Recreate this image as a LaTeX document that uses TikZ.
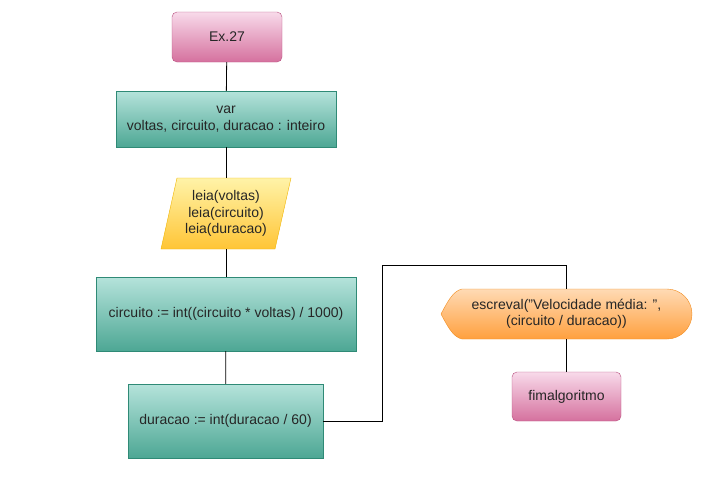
\documentclass[tikz,border=0pt]{standalone}
\usepackage{fontspec}
\setmainfont{Liberation Sans}
\definecolor{pinkT}{HTML}{F8DAEA}
\definecolor{pinkB}{HTML}{D5719E}
\definecolor{pinkD}{HTML}{B8507F}
\definecolor{tealT}{HTML}{B5E3DB}
\definecolor{tealB}{HTML}{4DA794}
\definecolor{tealD}{HTML}{2F8A76}
\definecolor{yelT}{HTML}{FFF3A8}
\definecolor{yelB}{HTML}{FFC536}
\definecolor{yelD}{HTML}{F0B400}
\definecolor{orT}{HTML}{FFDAB4}
\definecolor{orB}{HTML}{FFA03E}
\definecolor{orD}{HTML}{F28C1E}
\tikzset{
  base/.style={font=\fontsize{14}{16.5}\selectfont, align=center, inner sep=0pt, text=black!85},
  term/.style={base, draw=pinkD, top color=pinkT, bottom color=pinkB, rounded corners=5pt, minimum width=110pt, minimum height=50pt},
  proc/.style={base, draw=tealD, top color=tealT, bottom color=tealB, minimum height=56pt},
  conn/.style={draw=black, line width=0.8pt}
}
\begin{document}
\begin{tikzpicture}[x=1pt,y=-1pt]
\useasboundingbox (0,0) rectangle (716,504);
\node[term] (ex) at (227,37) {Ex.27};
\node[proc, minimum width=220pt] (var) at (226,119) {var\\voltas, circuito, duracao : inteiro};
\node[base, draw=none, minimum width=130pt, minimum height=71pt] (leia) at (226,213.5) {};
\draw[draw=yelD, top color=yelT, bottom color=yelB] (177,178) -- (291,178) -- (275,249) -- (161,249) -- cycle;
\node[base] at (226,213.5) {leia(voltas)\\leia(circuito)\\leia(duracao)};
\node[proc, minimum width=260pt, minimum height=74pt] (circ) at (226,314) {circuito := int((circuito * voltas) / 1000)};
\node[proc, minimum width=195pt, minimum height=74pt] (dur) at (225.5,421) {duracao := int(duracao / 60)};
\node[base, minimum width=251pt, minimum height=50pt] (esc) at (566.5,314) {};
\draw[draw=orD, top color=orT, bottom color=orB]
  (441,314) .. controls (448,301) and (453,291) .. (462,289) -- (667,289)
  .. controls (680.8,289) and (692,300.2) .. (692,314)
  .. controls (692,327.8) and (680.8,339) .. (667,339) -- (462,339)
  .. controls (453,337) and (448,327) .. (441,314) -- cycle;
\node[base] at (566.5,314) {escreval("Velocidade média: ",\\(circuito / duracao))};
\node[term, minimum width=109pt, minimum height=49pt] (fim) at (566.5,396.5) {fimalgoritmo};
\coordinate (c1) at (382,421);
\coordinate (c2) at (382,265);
\coordinate (c3) at (566.5,265);
\draw[conn] (ex) -- (var);
\draw[conn] (var) -- (leia);
\draw[conn] (leia) -- (circ);
\draw[conn] (circ) -- (dur);
\draw[conn] (dur.east) -- (c1) -- (c2) -- (c3) -- (esc.north);
\draw[conn] (esc) -- (fim);
\end{tikzpicture}
\end{document}
